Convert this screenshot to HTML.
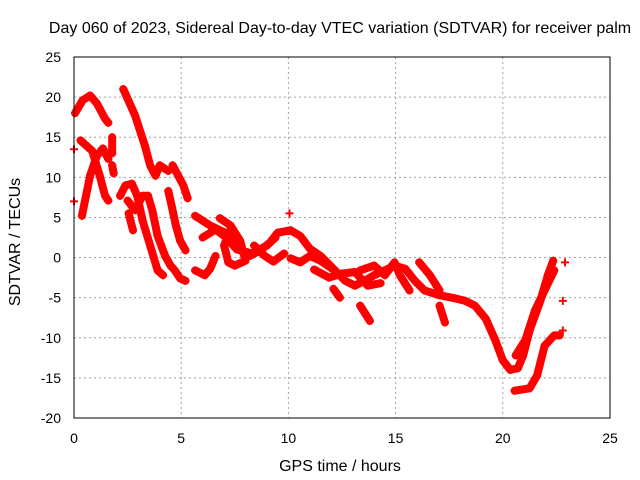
<!DOCTYPE html>
<html><head><meta charset="utf-8"><style>
body{margin:0;background:#fff;}
svg{display:block;font-family:"Liberation Sans",sans-serif;}
</style></head><body>
<svg id="chart" width="640" height="480">
<text x="340" y="33" text-anchor="middle" font-size="16">Day 060 of 2023, Sidereal Day-to-day VTEC variation (SDTVAR) for receiver palm</text>
<text x="340" y="471" text-anchor="middle" font-size="16">GPS time / hours</text>
<text x="0" y="0" transform="translate(20,242) rotate(-90)" text-anchor="middle" font-size="16">SDTVAR / TECUs</text>
<g id="grid"></g>
<g id="series"></g>
<rect x="74" y="57" width="536" height="361" fill="none" stroke="#000" stroke-width="1"/>
<g id="ticks"></g>
</svg>
<script>
const xTicks=[0,5,10,15,20,25];
const yTicks=[-20,-15,-10,-5,0,5,10,15,20,25];
const track1=[[0.05,18],[0.4,19.6],[0.75,20.2],[1.07,19.2],[1.45,17.3],[1.6,16.8]];
const track2=[[0.3,14.6],[0.85,13.3],[1.2,10.2],[1.45,7.7],[1.6,7.1]];
const track3=[[0.37,5.2],[0.75,10.2],[1.07,12.7],[1.35,13.6],[1.6,12.3]];
const track4=[[1.78,15],[1.78,13]];
const track5=[[1.78,11.5],[1.85,10.5]];
const track6=[[2.3,21],[2.85,17.7],[3.3,14],[3.55,11.5],[3.8,10.2],[4.0,11.5],[4.4,10.8]];
const track7=[[4.6,11.5],[5.1,9],[5.3,7.4]];
const track8=[[2.15,7.7],[2.4,9],[2.7,9.2],[2.95,7.7],[3.2,4.6],[3.55,1.5],[3.9,-1.6],[4.15,-2.2]];
const track9=[[2.5,7.1],[2.85,5.9],[3.2,7.7],[3.45,7.7],[3.65,5.9],[3.9,2.7],[4.25,0.2],[4.5,-1],[4.7,-1.6],[4.95,-2.6],[5.2,-2.9]];
const track10=[[2.55,5.5],[2.75,3.4]];
const track11=[[4.4,8.3],[4.55,6.5],[4.75,4],[4.95,2.1],[5.2,0.9]];
const track12=[[5.65,-1.6],[6.1,-2.2],[6.35,-1.4],[6.6,0.2]];
const track13=[[5.65,5.2],[6.35,4],[7.05,3.1],[7.75,1.1],[8.2,0.2],[8.7,0.9],[9.15,1.9],[9.5,3.1],[10.1,3.4],[10.55,2.7],[11,1.1],[11.5,0.2],[11.95,-1],[12.65,-2.9],[13.1,-3.5],[13.55,-2.9],[14,-2.2],[14.5,-1.6],[14.95,-1],[15.45,-1.4],[15.9,-2.9],[16.35,-4.1],[17.05,-4.7],[17.8,-5.1],[18.25,-5.4],[18.7,-6],[19.2,-7.6],[19.65,-10.3],[20,-12.8],[20.35,-14],[20.7,-13.8],[20.95,-12.2],[21.25,-9.1],[21.75,-5.4],[22.1,-2.2],[22.35,-0.4]];
const track14=[[20.6,-12.2],[21.05,-10.3],[21.5,-6.6],[21.95,-4.1],[22.4,-1.6]];
const track15=[[20.55,-16.6],[21.25,-16.3],[21.6,-14.7],[21.95,-11],[22.4,-9.7],[22.65,-9.7]];
const track16=[[6.8,4.9],[7.3,4],[7.75,2.1],[8,-0.4],[7.5,-1],[7.2,-0.6],[7.0,1.5],[7.3,3.5]];
const track17=[[10.1,-0.1],[10.55,-0.6],[11,0.2],[11.5,-0.4],[12.1,-1.5]];
const track18=[[12.1,-3.9],[12.4,-5]];
const track19=[[13.35,-6],[13.8,-7.9]];
const track20=[[17.05,-6],[17.3,-8.1]];
const track21=[[13.35,-1.6],[14,-1],[14.5,-2.2],[14.95,-0.6],[15.2,-2.2],[15.65,-4.1]];
const track22=[[16.1,-0.6],[16.6,-2.2],[17.05,-4.1]];
const track23=[[22.9,-0.6]];
const track24=[[22.8,-5.4]];
const track25=[[22.8,-9.1]];
const track26=[[10.05,5.5]];
const track27=[[0,7]];
const track28=[[0,13.5]];
const track29=[[6.0,2.5],[6.6,3.5],[7.1,2.5],[7.6,1],[8.3,0.5],[9,1.5],[9.4,2.5]];
const track30=[[8.4,1.5],[8.9,0.2],[9.3,-0.5],[9.8,0.5]];
const track31=[[11.2,-1.5],[11.9,-2.5],[12.5,-2],[13.1,-1.8],[13.7,-3.5],[14.3,-3.2]];
const tracks=[track1,track2,track3,track4,track5,track6,track7,track8,track9,track10,track11,track12,track13,track14,track15,track16,track17,track18,track19,track20,track21,track22,track23,track24,track25,track26,track27,track28,track29,track30,track31];

const X0=74,X1=610,Y0=418,Y1=57;
const sx=v=>X0+(v-0)/(25-0)*(X1-X0);
const sy=v=>Y0-(v+20)/(25+20)*(Y0-Y1);
const NS="http://www.w3.org/2000/svg";
const grid=document.getElementById('grid'),ticks=document.getElementById('ticks'),ser=document.getElementById('series');
function mk(t,a,p){const e=document.createElementNS(NS,t);for(const k in a)e.setAttribute(k,a[k]);p.appendChild(e);return e;}
xTicks.forEach(v=>{
  const x=sx(v);
  if(v>0&&v<25){const g=mk('line',{x1:x,x2:x,y1:Y1,y2:Y0,stroke:'#a0a0a0','stroke-dasharray':'2,3'},grid);
  
  }
  const t=mk('text',{x:x,y:Y0+25,'text-anchor':'middle','font-size':'14'},ticks);t.textContent=v;
  
  
});
yTicks.forEach(v=>{
  const y=sy(v);
  if(v>-20&&v<25){const g=mk('line',{x1:X0,x2:X1,y1:y,y2:y,stroke:'#a0a0a0','stroke-dasharray':'2,3'},grid);
  
  }
  const t=mk('text',{x:61,y:y+5,'text-anchor':'end','font-size':'14'},ticks);t.textContent=v;
  
  
});
tracks.forEach(tr=>{
  const pts=tr.map(p=>sx(p[0])+','+sy(p[1])).join(' ');
  const pl=mk('polyline',{points:pts,fill:'none',stroke:'#ff0000','stroke-width':'8','stroke-linejoin':'round','stroke-linecap':'round'},ser);
  
  
  tr.forEach(p=>{
    const x=sx(p[0]),y=sy(p[1]);
    const m=mk('path',{d:`M${x-4},${y}H${x+4}M${x},${y-4}V${y+4}`,stroke:'#ff0000','stroke-width':'2'},ser);
    
    
  });
});
</script>
</body></html>
